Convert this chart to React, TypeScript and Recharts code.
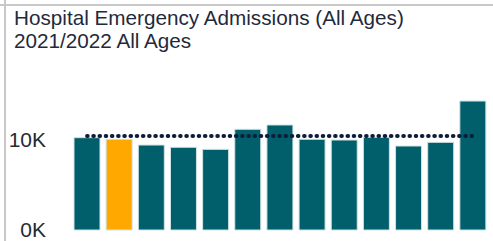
import React from 'react';
import { ComposedChart, Bar, Line, XAxis, YAxis, Cell } from 'recharts';

const months = ['Apr', 'May', 'Jun', 'Jul', 'Aug', 'Sep', 'Oct', 'Nov', 'Dec', 'Jan', 'Feb', 'Mar', 'Apr2'];
const admissions = [10260, 10080, 9440, 9190, 8960, 11190, 11670, 10080, 10000, 10300, 9330, 9740, 14330];
const average = [10440, 10440, 10440, 10440, 10440, 10440, 10440, 10440, 10440, 10440, 10440, 10440, 10440];
const highlightIndex = 1;
const yTicks = [0, 10000];

const data = months.map((m, i) => ({ month: m, value: admissions[i], avg: average[i] }));

const FONT = '"Liberation Sans", Arial, sans-serif';

const App: React.FC = () => (
  <div style={{ position: 'fixed', left: 0, top: 0, width: 493, height: 241, background: '#fff', overflow: 'hidden' }}>
    <div style={{ position: 'absolute', left: 0, top: 4, width: 493, height: 2, background: '#c8c8c8' }} />
    <div style={{ position: 'absolute', left: 4, top: 0, width: 2, height: 241, background: '#c8c8c8' }} />
    <div style={{
      position: 'absolute',
      left: 14,
      top: 6,
      fontFamily: FONT,
      fontSize: 20.7,
      lineHeight: '23px',
      color: '#1f2a3c',
      whiteSpace: 'nowrap',
    }}>
      Hospital Emergency Admissions (All Ages)<br />2021/2022 All Ages
    </div>
    <div style={{ position: 'absolute', left: 0, top: 0 }}>
      <ComposedChart width={493} height={241} data={data} margin={{ top: 95, right: 4, bottom: 11, left: 0 }} barCategoryGap={3}>
        <XAxis dataKey="month" hide />
        <YAxis
          width={71}
          domain={[0, 15000]}
          ticks={yTicks}
          interval={0}
          tickFormatter={(v: number) => `${v / 1000}K`}
          axisLine={false}
          tickLine={false}
          tickSize={0}
          tickMargin={25}
          tick={{ fill: '#252a33', fontSize: 21, fontFamily: FONT }}
        />
        <Bar dataKey="value" stroke="#cfe3e6" strokeWidth={1} isAnimationActive={false}>
          {data.map((_, i) => (
            <Cell key={i} fill={i === highlightIndex ? '#ffa800' : '#005f6b'} />
          ))}
        </Bar>
        <Line
          dataKey="avg"
          stroke="#0f1d3a"
          strokeWidth={4}
          strokeDasharray="0.6 5.6"
          strokeLinecap="round"
          dot={false}
          activeDot={false}
          isAnimationActive={false}
        />
      </ComposedChart>
    </div>
  </div>
);

export default App;
